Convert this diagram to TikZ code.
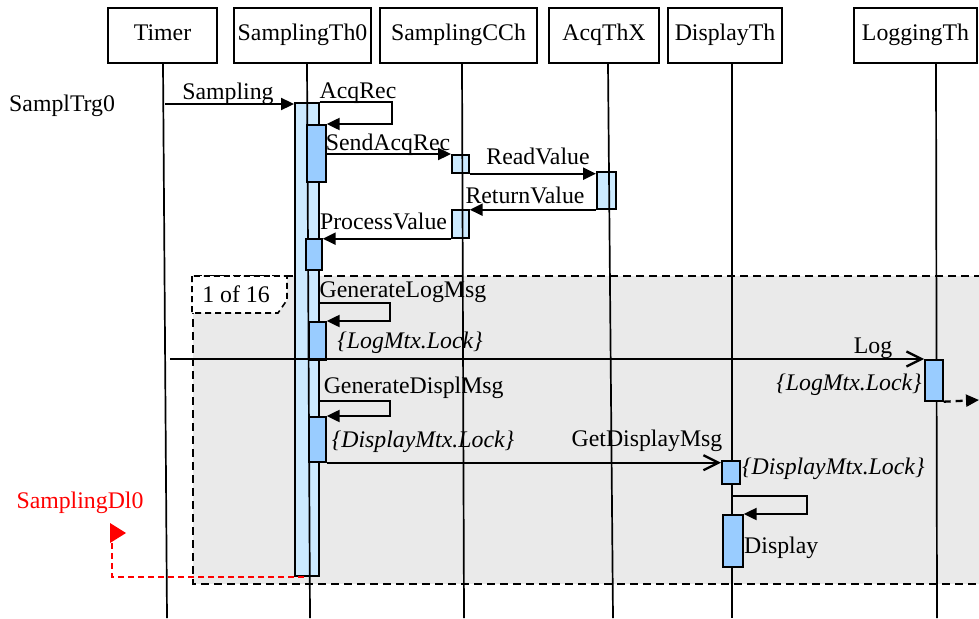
\documentclass[tikz,border=0pt]{standalone}
\usepackage{fontspec}
\setmainfont{Liberation Serif}
\usetikzlibrary{arrows.meta}
\definecolor{lblue}{RGB}{204,234,255}
\definecolor{dblue}{RGB}{153,204,255}
\definecolor{framegray}{RGB}{234,234,234}
\begin{document}
\begin{tikzpicture}[x=1pt,y=-1pt,
  every node/.style={font=\fontsize{23.8}{28}\selectfont},
  head/.style={draw, line width=1.8pt, inner sep=0, minimum height=55pt, text height=16pt, text depth=5pt},
  life/.style={line width=1.7pt},
  lbar/.style={draw, line width=1.7pt, fill=lblue, inner sep=0, anchor=north west},
  dbar/.style={draw, line width=1.7pt, fill=dblue, inner sep=0, anchor=north west},
  syn/.style={line width=2.3pt, -{Triangle[length=13pt,width=12pt]}},
  asyn/.style={line width=2.3pt, -{Straight Barb[length=15pt,width=15pt,line width=2.3pt]}},
  lbl/.style={inner sep=0, anchor=base},
  ilbl/.style={inner sep=0, anchor=base, font=\fontsize{23.8}{28}\selectfont\itshape},
  frdash/.style={line width=1.8pt, dash pattern=on 8pt off 5pt},
]
\clip (0,0) rectangle (979,618);
% loop frame
\fill[framegray] (193,276) rectangle (995,584);
\draw[frdash] (995,276) -- (193,276) -- (193,584) -- (995,584);
\draw[fill=white, line width=1.6pt, dash pattern=on 6pt off 4pt] (192,276) -- (192,313) -- (278,313) -- (287,300) -- (287,276) -- cycle;
\node[lbl] (loopl) at (236,302) {1 of 16};
% heads
\node[head, minimum width=109pt] (timer) at (162.5,35.5) {Timer};
\node[head, minimum width=137pt] (sth) at (302.5,35.5) {SamplingTh0};
\node[head, minimum width=157pt] (scc) at (458.5,35.5) {SamplingCCh};
\node[head, minimum width=110pt] (acq) at (604,35.5) {AcqThX};
\node[head, minimum width=114pt] (dth) at (725,35.5) {DisplayTh};
\node[head, minimum width=123pt] (lth) at (915.5,35.5) {LoggingTh};
% light bars
\node[lbar, minimum width=24pt, minimum height=473pt] (bigbar) at (294,102) {};
\node[lbar, minimum width=17pt, minimum height=18pt] (cc1) at (451,154) {};
\node[lbar, minimum width=19pt, minimum height=37pt] (aq1) at (596,171) {};
\node[lbar, minimum width=17pt, minimum height=28pt] (cc2) at (451,209) {};
% lifelines
\coordinate (timerB) at (167,618);
\coordinate (sthB) at (310,618);
\coordinate (sccB) at (464,618);
\coordinate (acqB) at (613,618);
\coordinate (dthB) at (732,618);
\coordinate (lthB) at (937,618);
\draw[life] ([xshift=0.5pt]timer.south) -- (timerB);
\draw[life] ([xshift=4.5pt]sth.south) -- (sthB);
\draw[life] ([xshift=3.5pt]scc.south) -- (sccB);
\draw[life] ([xshift=4pt]acq.south) -- (acqB);
\draw[life] ([xshift=7pt]dth.south) -- (dthB);
\draw[life] ([xshift=20.5pt]lth.south) -- (lthB);
% dark bars
\node[dbar, minimum width=19pt, minimum height=57pt] (ib1) at (306,124) {};
\node[dbar, minimum width=16pt, minimum height=31pt] (ib2) at (305,238) {};
\node[dbar, minimum width=17pt, minimum height=38pt] (ib3) at (308,321) {};
\node[dbar, minimum width=18pt, minimum height=41pt] (lg1) at (924,359) {};
\node[dbar, minimum width=17pt, minimum height=45pt] (ib4) at (308,416) {};
\node[dbar, minimum width=18pt, minimum height=23pt] (dp1) at (721,460) {};
\node[dbar, minimum width=20pt, minimum height=52pt] (dp2) at (722,514) {};
% messages
\coordinate (sampS) at (165,104);
\draw[syn] (sampS) -- (sampS -| bigbar.west);
\draw[syn] (bigbar.north east) -- ++(72,0) |- (ib1.north east);
\draw[syn] (ib1.east |- cc1.north) -- (cc1.north west);
\draw[syn] (cc1.south east) -- (cc1.south east -| aq1.west);
\draw[syn] (aq1.south west) -- (aq1.south west -| cc2.east);
\draw[syn] (cc2.south west) -- (cc2.south west -| ib2.east);
\coordinate (g1) at (318,303);
\draw[syn] (g1) -- ++(72,0) |- (ib3.north east);
\coordinate (logS) at (170,359);
\draw[asyn] (logS) -- (logS -| lg1.west);
\coordinate (logE) at (979,400);
\draw[syn, dash pattern=on 7pt off 5pt] (lg1.south east) -- (logE);
\coordinate (g2) at (318,401);
\draw[syn] (g2) -- ++(72,0) |- (ib4.north east);
\draw[asyn] (ib4.south east) -- (ib4.south east -| dp1.west);
\coordinate (d1) at (732,496);
\draw[syn] (d1) -- ++(75,0) |- (dp2.north east);
% red deadline
\fill[red] (110,523) -- (126,533) -- (110,543) -- cycle;
\coordinate (dl) at (112,543);
\draw[red, line width=1.7pt, dash pattern=on 6pt off 4pt] (dl) |- (bigbar.south);
% labels
\node[inner sep=0, anchor=base west] (trg) at (9,111) {SamplTrg0};
\node[lbl] (l1) at (228,99) {Sampling};
\node[lbl] (l2) at (358,98) {AcqRec};
\node[lbl] (l3) at (388,150) {SendAcqRec};
\node[lbl] (l4) at (538,164) {ReadValue};
\node[lbl] (l5) at (525,203) {ReturnValue};
\node[lbl] (l6) at (383.5,229) {ProcessValue};
\node[lbl] (l7) at (403,297) {GenerateLogMsg};
\node[ilbl] (l8) at (410,348) {\{LogMtx.Lock\}};
\node[lbl] (l9) at (873,353) {Log};
\node[ilbl] (l10) at (849,390) {\{LogMtx.Lock\}};
\node[lbl] (l11) at (413.7,393) {GenerateDisplMsg};
\node[ilbl] (l12) at (423,447) {\{DisplayMtx.Lock\}};
\node[lbl] (l13) at (647,446) {GetDisplayMsg};
\node[ilbl, anchor=base west] (l14) at (742,474) {\{DisplayMtx.Lock\}};
\node[lbl, anchor=base west] (l15) at (744,553) {Display};
\node[lbl, text=red] (l16) at (80,508) {SamplingDl0};
\end{tikzpicture}
\end{document}
